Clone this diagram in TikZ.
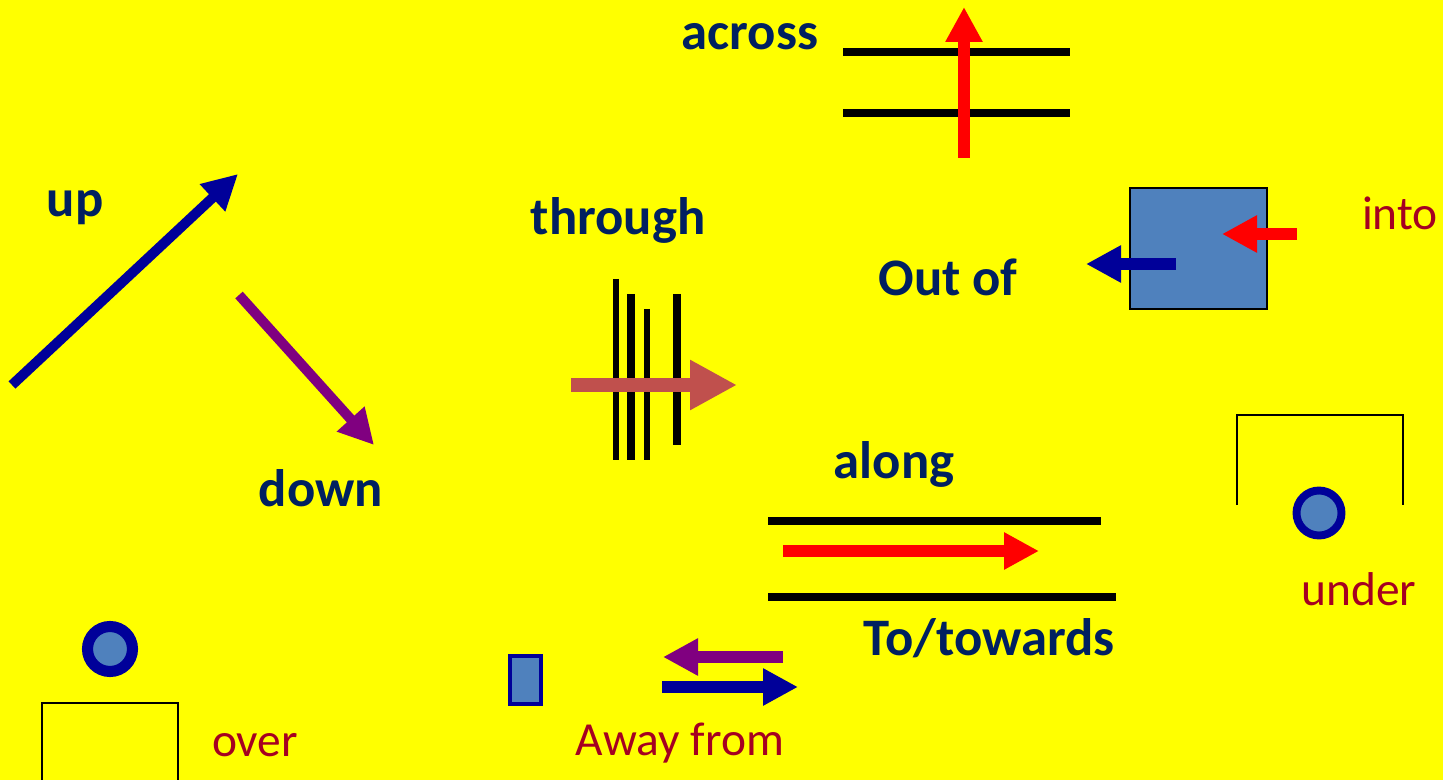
\documentclass[tikz,border=0pt]{standalone}
\usepackage{fontspec}
\setmainfont{Carlito}
\usetikzlibrary{arrows.meta}

\tikzset{
    word/.style={text=wordblue, font=\fontsize{30}{36}\selectfont\bfseries, inner sep=0pt},
    redword/.style={text=wordred, font=\fontsize{27}{32}\selectfont, inner sep=0pt},
    bar/.style={line width=4pt},
    head/.style={-{Triangle[length=0.7cm, width=0.7cm]}}
}

\begin{document}
\begin{tikzpicture}[x=0.02cm, y=-0.02cm]
        \definecolor{bgyellow}{RGB}{255, 255, 0}
        \definecolor{wordblue}{HTML}{002060}
        \definecolor{wordred}{HTML}{A50021}
        \definecolor{arrowblue}{RGB}{0, 0, 153}
        \definecolor{arrowpurple}{RGB}{128, 0, 128}
        \definecolor{arrowsalmon}{HTML}{C0504D}
        \definecolor{boxblue}{HTML}{4F81BD}

        % Draw background
        \fill[bgyellow] (0,0) rectangle (1443,780);
        \useasboundingbox (0,0) rectangle (1443,780);

        % up and down
        \node[word] (up) at (75,208) {up};
        \draw[arrowblue, line width=5.7pt, head] (12,385) -- (238,174);
        \draw[arrowpurple, line width=5.7pt, head] (239,295) -- (374,445);
        \node[word] (down) at (321,488) {down};

        % through
        \node[word] (through) at (618,220) {through};
        \draw[line width=3.4pt] (616,279) -- (616,460);
        \draw[line width=4.4pt] (631,294) -- (631,460);
        \draw[line width=3.4pt] (647,309) -- (647,460);
        \draw[line width=4.4pt] (677,294) -- (677,445);
        \draw[arrowsalmon, line width=8.5pt, -{Triangle[length=0.94cm, width=0.94cm]}] (571,385) -- (737,385);

        % across
        \node[word] (across) at (750,37) {across};
        \draw[bar] (843,52) -- (1070,52);
        \draw[bar] (843,113) -- (1070,113);
        \draw[red, line width=6.8pt, head] (964,158) -- (964,7);

        % into and out of
        \filldraw[fill=boxblue, draw=black, line width=1.2pt] (1130,188) rectangle (1267,309);
        \draw[red, line width=6.3pt, head] (1297,234) -- (1222,234);
        \draw[arrowblue, line width=6.8pt, head] (1176,264) -- (1086,264);
        \node[redword] (into) at (1400,213) {into};
        \node[word] (outof) at (948,277) {Out of};

        % along
        \node[word] (along) at (894,464) {along};
        \draw[line width=4.5pt] (768,521) -- (1101,521);
        \draw[line width=4.5pt] (768,597) -- (1116,597);
        \draw[red, line width=6.3pt, head] (783,551) -- (1039,551);
        \node[word] (towards) at (989,638) {To/towards};

        % under
        \draw[line width=1.2pt] (1237,505) -- (1237,415) -- (1403,415) -- (1403,505);
        \filldraw[fill=boxblue, draw=arrowblue, line width=4.5pt] (1319,513) circle (22.5);
        \node[redword] (under) at (1359,589) {under};

        % over
        \filldraw[fill=boxblue, draw=arrowblue, line width=6.3pt] (110,649) circle (22.5);
        \draw[line width=1.2pt] (42,780) -- (42,703) -- (178,703) -- (178,780);
        \node[redword] (over) at (255,745) {over};

        % away from
        \filldraw[fill=boxblue, draw=arrowblue, line width=1.8pt] (510,656) rectangle (541,704);
        \draw[arrowpurple, line width=6.3pt, head] (783,657) -- (663,657);
        \draw[arrowblue, line width=6.8pt, head] (662,687) -- (798,687);
        \node[redword] (awayfrom) at (680,743) {Away from};
\end{tikzpicture}
\end{document}
